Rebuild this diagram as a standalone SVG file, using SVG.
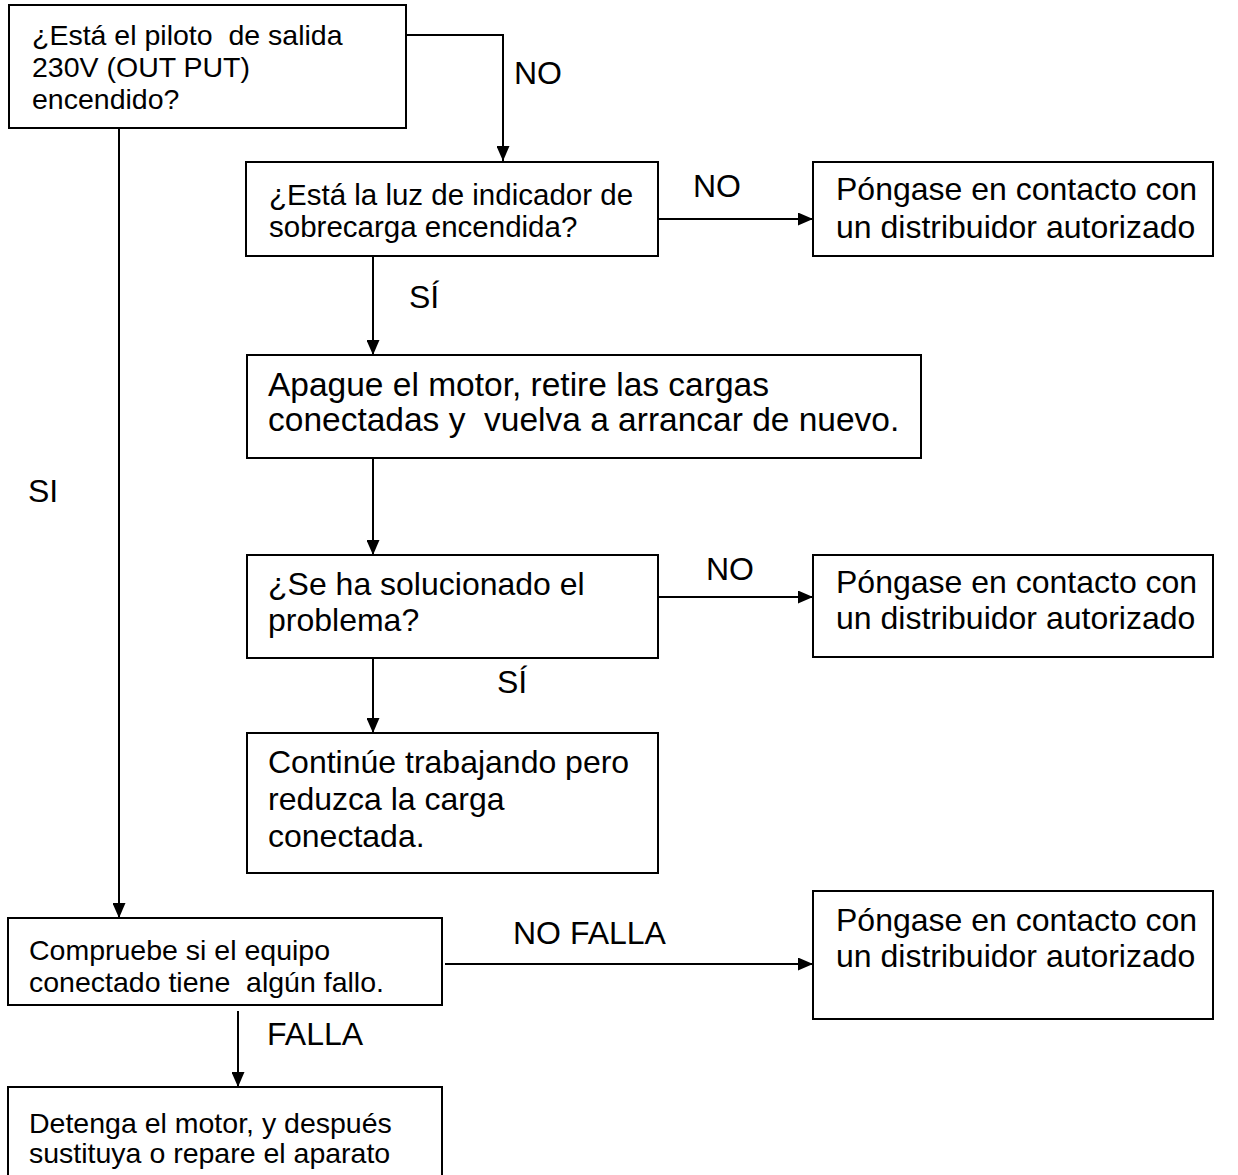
<svg xmlns="http://www.w3.org/2000/svg" width="1238" height="1175" viewBox="0 0 1238 1175">
<defs>
<style>
.box{fill:#fff;stroke:#000;stroke-width:2}
.t{font-family:"Liberation Sans",Arial,sans-serif;fill:#000;white-space:pre}
.s{font-size:28.5px}
.m{font-size:29.5px}
.l{font-size:32px}
.xl{font-size:33.5px}
.c{fill:none;stroke:#000;stroke-width:2}
.lab{font-family:"Liberation Sans",Arial,sans-serif;font-size:32px;fill:#000}
</style>
<marker id="ah" viewBox="0 0 15 13" refX="15" refY="6.5" markerWidth="15" markerHeight="13" markerUnits="userSpaceOnUse" orient="auto">
<path d="M0,0 L15,6.5 L0,13 Z" fill="#000"/>
</marker>
</defs>
<rect width="1238" height="1175" fill="#fff"/>
<g id="connectors">
<polyline class="c" points="406,35 503,35 503,161" marker-end="url(#ah)"/>
<line class="c" x1="658" y1="219" x2="813" y2="219" marker-end="url(#ah)"/>
<line class="c" x1="373" y1="256" x2="373" y2="355" marker-end="url(#ah)"/>
<line class="c" x1="373" y1="458" x2="373" y2="555" marker-end="url(#ah)"/>
<line class="c" x1="658" y1="597" x2="813" y2="597" marker-end="url(#ah)"/>
<line class="c" x1="373" y1="658" x2="373" y2="733" marker-end="url(#ah)"/>
<line class="c" x1="119" y1="128" x2="119" y2="918" marker-end="url(#ah)"/>
<line class="c" x1="445" y1="964" x2="813" y2="964" marker-end="url(#ah)"/>
<line class="c" x1="238" y1="1011" x2="238" y2="1087" marker-end="url(#ah)"/>
<text class="lab" x="514" y="84">NO</text>
<text class="lab" x="693" y="197">NO</text>
<text class="lab" x="409" y="308">SÍ</text>
<text class="lab" x="706" y="580">NO</text>
<text class="lab" x="497" y="693">SÍ</text>
<text class="lab" x="28" y="502">SI</text>
<text class="lab" x="513" y="944">NO FALLA</text>
<text class="lab" x="267" y="1045">FALLA</text>
</g>
<g id="n1"><rect class="box" x="9" y="5" width="397" height="123"/>
<text class="t s"><tspan x="32" y="45">¿Está el piloto  de salida</tspan><tspan x="32" y="77">230V (OUT PUT)</tspan><tspan x="32" y="109">encendido?</tspan></text></g>
<g id="n2"><rect class="box" x="246" y="162" width="412" height="94"/>
<text class="t m"><tspan x="269" y="205">¿Está la luz de indicador de</tspan><tspan x="269" y="237">sobrecarga encendida?</tspan></text></g>
<g id="n3"><rect class="box" x="813" y="162" width="400" height="94"/>
<text class="t l"><tspan x="836" y="200">Póngase en contacto con</tspan><tspan x="836" y="238">un distribuidor autorizado</tspan></text></g>
<g id="n4"><rect class="box" x="247" y="355" width="674" height="103"/>
<text class="t xl"><tspan x="268" y="396">Apague el motor, retire las cargas</tspan><tspan x="268" y="431">conectadas y  vuelva a arrancar de nuevo.</tspan></text></g>
<g id="n5"><rect class="box" x="247" y="555" width="411" height="103"/>
<text class="t l"><tspan x="268" y="595">¿Se ha solucionado el</tspan><tspan x="268" y="631">problema?</tspan></text></g>
<g id="n6"><rect class="box" x="813" y="555" width="400" height="102"/>
<text class="t l"><tspan x="836" y="593">Póngase en contacto con</tspan><tspan x="836" y="629">un distribuidor autorizado</tspan></text></g>
<g id="n7"><rect class="box" x="247" y="733" width="411" height="140"/>
<text class="t l"><tspan x="268" y="773">Continúe trabajando pero</tspan><tspan x="268" y="810">reduzca la carga</tspan><tspan x="268" y="847">conectada.</tspan></text></g>
<g id="n8"><rect class="box" x="8" y="918" width="434" height="87"/>
<text class="t s"><tspan x="29" y="960">Compruebe si el equipo</tspan><tspan x="29" y="992">conectado tiene  algún fallo.</tspan></text></g>
<g id="n9"><rect class="box" x="813" y="891" width="400" height="128"/>
<text class="t l"><tspan x="836" y="931">Póngase en contacto con</tspan><tspan x="836" y="967">un distribuidor autorizado</tspan></text></g>
<g id="n10"><rect class="box" x="8" y="1087" width="434" height="92"/>
<text class="t s"><tspan x="29" y="1133">Detenga el motor, y después</tspan><tspan x="29" y="1163">sustituya o repare el aparato</tspan></text></g>
</svg>
